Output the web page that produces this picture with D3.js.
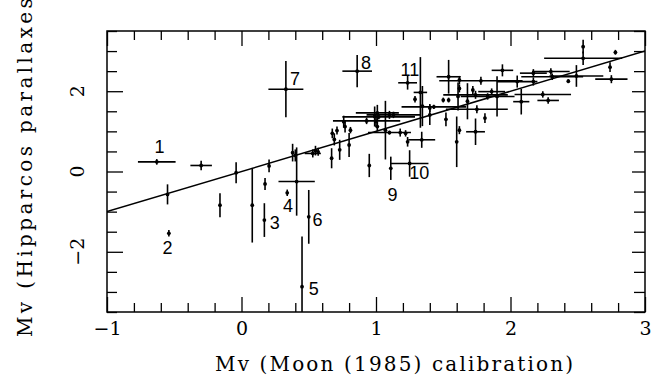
<!DOCTYPE html>
<html>
<head>
<meta charset="utf-8">
<script src="https://cdn.jsdelivr.net/npm/d3@7"></script>
<style>
  body { margin: 0; background: #fff; }
  svg { display: block; }
</style>
</head>
<body>
<div id="chart"></div>
<script>
var width = 658,
  height = 383;

// star data: Mv from Moon (1985) calibration vs Mv from Hipparcos parallaxes
var moonMv = [-0.63, -0.30, -0.55, -0.54, -0.16, -0.04, 0.08, 0.175, 0.17, 0.205,
  0.38, 0.40, 0.34, 0.41, 0.50, 0.45, 0.33, 0.53, 0.55, 0.57,
  0.67, 0.675, 0.69, 0.71, 0.73, 0.76, 0.77, 0.80, 0.81, 0.86,
  0.93, 0.95, 0.99, 1.01, 1.00, 1.02, 1.01, 1.07, 1.11, 1.10,
  1.13, 1.10, 1.18, 1.22, 1.235, 1.34, 1.25, 1.235, 1.33, 1.29,
  1.345, 1.43, 1.40, 1.40, 1.50, 1.54, 1.52, 1.54, 1.60, 1.62,
  1.62, 1.62, 1.61, 1.68, 1.72, 1.74, 1.78, 1.75, 1.74, 1.81,
  1.83, 1.86, 1.90, 1.94, 2.05, 2.08, 2.17, 2.17, 2.24, 2.28,
  2.30, 2.31, 2.43, 2.49, 2.54, 2.54, 2.74, 2.75, 2.78];
var hipMv = [0.24, 0.15, -0.57, -1.54, -0.84, -0.03, -0.84, -0.31, -1.21, 0.14,
  0.47, 0.40, -0.53, -0.25, -1.13, -2.87, 2.05, 0.45, 0.52, 0.49,
  0.33, 0.95, 0.80, 1.02, 0.54, 1.24, 1.12, 0.66, 1.03, 2.50,
  1.26, 0.15, 1.37, 1.46, 1.25, 1.36, 1.12, 1.03, 0.08, 1.41,
  1.41, 0.97, 0.97, 0.95, 0.74, 0.79, 0.20, 2.21, 1.97, 1.80,
  1.63, 1.61, 1.41, 1.58, 1.78, 1.78, 1.30, 2.36, 0.74, 1.03,
  2.28, 2.07, 1.87, 1.75, 2.03, 1.91, 2.26, 1.55, 0.99, 1.33,
  1.87, 1.99, 1.87, 2.52, 2.24, 1.74, 2.45, 2.24, 1.92, 1.77,
  2.49, 2.36, 2.25, 2.38, 3.11, 2.82, 2.60, 2.30, 2.97];
var moonErr = [0.14, 0.08, 0, 0, 0, 0, 0, 0, 0, 0,
  0, 0, 0, 0.135, 0, 0, 0.13, 0.06, 0, 0,
  0, 0, 0, 0, 0, 0, 0, 0, 0, 0.11,
  0.25, 0, 0, 0.16, 0, 0.27, 0, 0, 0, 0,
  0.2, 0.16, 0, 0, 0, 0.1, 0.14, 0.07, 0.05, 0,
  0, 0.24, 0, 0, 0, 0, 0, 0.09, 0, 0,
  0, 0, 0, 0, 0, 0.24, 0.31, 0.23, 0.07, 0,
  0.2, 0.1, 0, 0.08, 0.15, 0.06, 0.1, 0, 0.21, 0.08,
  0.14, 0.23, 0, 0.2, 0, 0.29, 0, 0.12, 0];
var hipErr = [0.07, 0.12, 0.25, 0.08, 0.30, 0.26, 0.93, 0.15, 0.42, 0.16,
  0.22, 0.15, 0.08, 0.85, 0.67, 1.25, 0.70, 0.10, 0.12, 0.10,
  0.25, 0.12, 0.15, 0.10, 0.25, 0.15, 0.15, 0.30, 0.08, 0.40,
  0.08, 0.29, 0.25, 0.20, 0.15, 0.06, 0.12, 0.73, 0.29, 0.10,
  0.08, 0.05, 0.10, 0.08, 0.12, 0.20, 0.33, 0.17, 0.88, 0.08,
  0.50, 0.05, 0.25, 0.10, 0.06, 0.06, 0.17, 0.42, 0.63, 0.10,
  0.10, 0.10, 0.35, 0.45, 0.10, 0.10, 0.10, 0.10, 0.33, 0.12,
  0.08, 0.08, 0.50, 0.15, 0.15, 0.32, 0.10, 0.10, 0.08, 0.08,
  0.08, 0.08, 0.05, 0.27, 0.17, 0.17, 0.12, 0.10, 0.06];

// numbered stars: label text and where the label sits (data units)
var labelText = ['1', '2', '3', '4', '5', '6', '7', '8', '9', '10', '11'];
var labelX = [-0.61, -0.55, 0.21, 0.346, 0.50, 0.527, 0.36, 0.888, 1.123, 1.248, 1.183];
var labelY = [0.45, -2.06, -1.44, -1.0, -3.08, -1.36, 2.16, 2.55, -0.73, -0.19, 2.38];
var labelAnchor = ['middle', 'middle', 'start', 'middle', 'start', 'start', 'start', 'start', 'middle', 'start', 'start'];

var xMajor = [-1, 0, 1, 2, 3];
var yMajor = [-2, 0, 2];

var xLabel = 'Mv (Moon (1985) calibration)';
var yLabel = 'Mv (Hipparcos parallaxes)';

var stars = moonMv.map(function(d, i) {
  return {x: d, y: hipMv[i], xe: moonErr[i], ye: hipErr[i]};
});

var x = d3.scaleLinear().domain([-1, 3]).range([107, 645]);
var y = d3.scaleLinear().domain([-3.5, 3.5]).range([312, 31]);

var svg = d3.select('#chart')
  .append('svg')
  .attr('width', width)
  .attr('height', height);

var serif = '"DejaVu Serif", serif';

// minor / major ticks on all four sides
var xMinor = d3.range(-1, 3.001, 0.2).filter(function(v) { return Math.abs(v - Math.round(v)) > 1e-6; });
var yMinor = d3.range(-3.5, 3.501, 0.5).filter(function(v) { return Math.abs(v - Math.round(v / 2) * 2) > 1e-6; });

function drawAxis(gen, transform) {
  var g = svg.append('g')
    .attr('transform', transform)
    .call(gen);
  g.select('.domain').remove();
  g.selectAll('line').attr('stroke', '#000').attr('stroke-width', 1.3);
  return g;
}

drawAxis(d3.axisBottom(x).tickValues(xMinor).tickSize(-9).tickFormat(''), 'translate(0,312)');
var xb = drawAxis(d3.axisBottom(x).tickValues(xMajor).tickSize(-15).tickPadding(10).tickFormat(d3.format('d')), 'translate(0,312)');
xb.selectAll('text')
  .attr('fill', '#000')
  .style('font-family', serif)
  .style('font-size', '19px');

drawAxis(d3.axisTop(x).tickValues(xMinor).tickSize(-9).tickFormat(''), 'translate(0,31)');
drawAxis(d3.axisTop(x).tickValues(xMajor).tickSize(-15).tickFormat(''), 'translate(0,31)');

drawAxis(d3.axisLeft(y).tickValues(yMinor).tickSize(-10).tickFormat(''), 'translate(107,0)');
drawAxis(d3.axisLeft(y).tickValues(yMajor).tickSize(-16).tickFormat(''), 'translate(107,0)');
drawAxis(d3.axisRight(y).tickValues(yMinor).tickSize(-11).tickFormat(''), 'translate(645,0)');
drawAxis(d3.axisRight(y).tickValues(yMajor).tickSize(-13).tickFormat(''), 'translate(645,0)');

// rotated y tick labels
svg.append('g')
  .selectAll('text')
  .data(yMajor)
  .join('text')
  .attr('transform', function(d) { return 'translate(84,' + y(d) + ') rotate(-90)'; })
  .attr('text-anchor', 'middle')
  .style('font-family', serif)
  .style('font-size', '19px')
  .text(d3.format('d'));

// frame
svg.append('rect')
  .attr('x', x(-1))
  .attr('y', y(3.5))
  .attr('width', x(3) - x(-1))
  .attr('height', y(-3.5) - y(3.5))
  .attr('fill', 'none')
  .attr('stroke', '#000')
  .attr('stroke-width', 1.5);

svg.append('defs')
  .append('clipPath')
  .attr('id', 'plotclip')
  .append('rect')
  .attr('x', x(-1))
  .attr('y', y(3.5))
  .attr('width', x(3) - x(-1))
  .attr('height', y(-3.5) - y(3.5));

var plot = svg.append('g').attr('clip-path', 'url(#plotclip)');

// one-to-one line
plot.append('line')
  .attr('x1', x(-1))
  .attr('y1', y(-1))
  .attr('x2', x(3))
  .attr('y2', y(3))
  .attr('stroke', '#000')
  .attr('stroke-width', 1.5);

// error bars
plot.append('g')
  .attr('stroke', '#000')
  .attr('stroke-width', 1.6)
  .selectAll('line.xe')
  .data(stars.filter(function(d) { return d.xe > 0; }))
  .join('line')
  .attr('x1', d => x(d.x - d.xe))
  .attr('x2', d => x(d.x + d.xe))
  .attr('y1', d => y(d.y))
  .attr('y2', d => y(d.y));

plot.append('g')
  .attr('stroke', '#000')
  .attr('stroke-width', 1.6)
  .selectAll('line.ye')
  .data(stars.filter(function(d) { return d.ye > 0; }))
  .join('line')
  .attr('x1', d => x(d.x))
  .attr('x2', d => x(d.x))
  .attr('y1', d => y(d.y - d.ye))
  .attr('y2', d => y(d.y + d.ye));

plot.append('g')
  .selectAll('circle')
  .data(stars)
  .join('circle')
  .attr('cx', d => x(d.x))
  .attr('cy', d => y(d.y))
  .attr('r', 1.9)
  .attr('fill', '#000');

// star numbers
svg.append('g')
  .selectAll('text')
  .data(labelText)
  .join('text')
  .attr('x', (d, i) => x(labelX[i]))
  .attr('y', (d, i) => y(labelY[i]))
  .attr('text-anchor', (d, i) => labelAnchor[i])
  .style('font-family', '"Liberation Sans", Arial, sans-serif')
  .style('font-size', '18px')
  .text(d => d);

// axis titles
svg.append('text')
  .attr('x', 215)
  .attr('y', 371)
  .attr('textLength', 358)
  .attr('lengthAdjust', 'spacing')
  .style('font-family', serif)
  .style('font-size', '20px')
  .text(xLabel);

svg.append('text')
  .attr('transform', 'translate(32,337) rotate(-90)')
  .attr('textLength', 350)
  .attr('lengthAdjust', 'spacing')
  .style('font-family', serif)
  .style('font-size', '20px')
  .text(yLabel);
</script>
</body>
</html>
